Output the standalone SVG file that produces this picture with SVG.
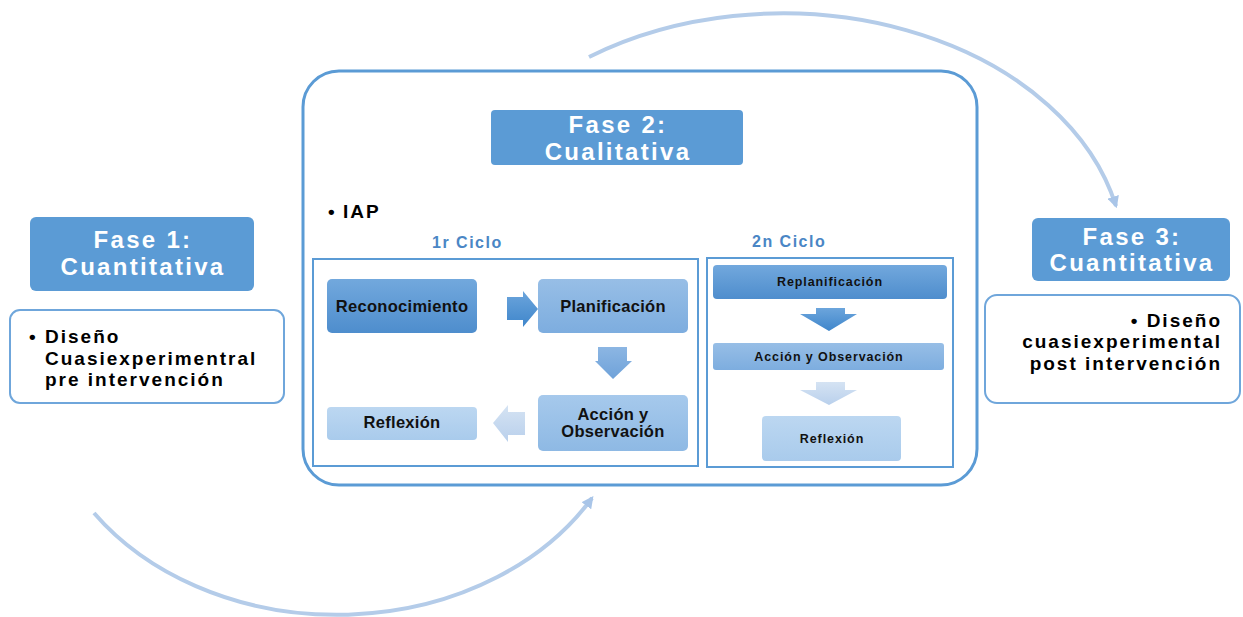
<svg xmlns="http://www.w3.org/2000/svg" width="1243" height="617" viewBox="0 0 1243 617">
<defs>
<style>
.fase{fill:#5B9BD5;}
.ft{font-family:"Liberation Sans",Arial,sans-serif;font-weight:bold;font-size:24px;fill:#fff;letter-spacing:2.3px;text-anchor:middle;}
.sub{fill:#fff;stroke:#6FA6DB;stroke-width:2;}
.st{font-family:"Liberation Sans",Arial,sans-serif;font-weight:bold;font-size:19px;fill:#000;letter-spacing:2px;}
.cyc{font-family:"Liberation Sans",Arial,sans-serif;font-weight:bold;font-size:16px;fill:#4A86C5;letter-spacing:1.5px;}
.cbox{fill:none;stroke:#5B9BD5;stroke-width:2;}
.nt{font-family:"Liberation Sans",Arial,sans-serif;font-weight:bold;font-size:16.5px;fill:#111;letter-spacing:0.3px;text-anchor:middle;}
.nt2{font-family:"Liberation Sans",Arial,sans-serif;font-weight:bold;font-size:12.5px;fill:#111;letter-spacing:0.9px;text-anchor:middle;}
.arc{fill:none;stroke:#B4CCE9;stroke-width:4;}
</style>
<linearGradient id="g1" x1="0" y1="0" x2="0" y2="1"><stop offset="0" stop-color="#72A8DD"/><stop offset="1" stop-color="#4E8DCD"/></linearGradient>
<linearGradient id="g2" x1="0" y1="0" x2="0" y2="1"><stop offset="0" stop-color="#97BEE6"/><stop offset="1" stop-color="#7DADDF"/></linearGradient>
<linearGradient id="g3" x1="0" y1="0" x2="0" y2="1"><stop offset="0" stop-color="#A6C9EC"/><stop offset="1" stop-color="#8EB9E4"/></linearGradient>
<linearGradient id="g4" x1="0" y1="0" x2="0" y2="1"><stop offset="0" stop-color="#BCD7F1"/><stop offset="1" stop-color="#A9CBEC"/></linearGradient>
<linearGradient id="ga1" x1="0" y1="0" x2="0" y2="1"><stop offset="0" stop-color="#6CA5DC"/><stop offset="1" stop-color="#3F86CB"/></linearGradient>
<linearGradient id="ga2" x1="0" y1="0" x2="0" y2="1"><stop offset="0" stop-color="#8CB6E3"/><stop offset="1" stop-color="#6FA2D9"/></linearGradient>
<linearGradient id="ga3" x1="0" y1="0" x2="0" y2="1"><stop offset="0" stop-color="#D5E3F3"/><stop offset="1" stop-color="#B9D0EC"/></linearGradient>
<marker id="ah" viewBox="0 0 10 10" refX="8" refY="5" markerWidth="3" markerHeight="3" orient="auto" markerUnits="strokeWidth">
<path d="M0,0 L10,5 L0,10 z" fill="#A9C5E8"/>
</marker>
</defs>

<g id="connectors">
<path class="arc" d="M589,57 A342,248 0 0,1 1116,206" marker-end="url(#ah)"/>
<path class="arc" d="M94,513 A295,235 0 0,0 592,498" marker-end="url(#ah)"/>
<path d="M507,297 L523,297 L523,291 L538,309 L523,327 L523,320 L507,320 z" fill="url(#ga1)"/>
<path d="M598,347 L627,347 L627,361 L632,361 L613,379 L595,361 L598,361 z" fill="url(#ga2)"/>
<path d="M525,412 L508,412 L508,405 L493,423 L508,442 L508,435 L525,435 z" fill="url(#ga3)"/>
<path d="M816,308 L845,308 L845,314 L857,314 L829,331 L800,314 L816,314 z" fill="url(#ga1)"/>
<path d="M816,382 L845,382 L845,390 L857,390 L829,405 L800,390 L816,390 z" fill="url(#ga3)"/>
</g>

<g id="container">
<rect x="303" y="71" width="674" height="414" rx="36" fill="none" stroke="#5B9BD5" stroke-width="3"/>
</g>

<g id="fase1">
<rect class="fase" x="30" y="217" width="224" height="74" rx="6"/>
<text class="ft" x="143" y="248">Fase 1:</text>
<text class="ft" x="143" y="275">Cuantitativa</text>
</g>
<g id="fase1-desc">
<rect class="sub" x="10" y="310" width="274" height="93" rx="10"/>
<text class="st" x="29" y="343">•</text>
<text class="st" x="45" y="343">Diseño</text>
<text class="st" x="45" y="365">Cuasiexperimentral</text>
<text class="st" x="45" y="386">pre intervención</text>
</g>

<g id="fase2">
<rect class="fase" x="491" y="110" width="252" height="55" rx="4"/>
<text class="ft" x="618" y="133">Fase 2:</text>
<text class="ft" x="618" y="160">Cualitativa</text>
</g>

<g id="iap">
<text class="st" x="328" y="218">•</text>
<text class="st" x="343" y="218">IAP</text>
</g>

<g id="ciclo1">
<text class="cyc" x="432" y="248">1r Ciclo</text>
<rect class="cbox" x="313" y="259" width="385" height="207"/>
</g>
<g id="reconocimiento">
<rect x="327" y="279" width="150" height="54" rx="5" fill="url(#g1)"/>
<text class="nt" x="402" y="312">Reconocimiento</text>
</g>
<g id="planificacion">
<rect x="538" y="279" width="150" height="54" rx="5" fill="url(#g2)"/>
<text class="nt" x="613" y="312">Planificación</text>
</g>
<g id="accion1">
<rect x="538" y="395" width="150" height="56" rx="5" fill="url(#g3)"/>
<text class="nt" x="613" y="420">Acción y</text>
<text class="nt" x="613" y="437">Observación</text>
</g>
<g id="reflexion1">
<rect x="327" y="407" width="150" height="33" rx="4" fill="url(#g4)"/>
<text class="nt" x="402" y="428">Reflexión</text>
</g>

<g id="ciclo2">
<text class="cyc" x="752" y="247">2n Ciclo</text>
<rect class="cbox" x="707" y="258" width="246" height="209"/>
</g>
<g id="replanificacion">
<rect x="713" y="265" width="234" height="34" rx="4" fill="url(#g1)"/>
<text class="nt2" x="830" y="286">Replanificación</text>
</g>
<g id="accion2">
<rect x="713" y="343" width="231" height="27" rx="3" fill="url(#g2)"/>
<text class="nt2" x="829" y="361">Acción y Observación</text>
</g>
<g id="reflexion2">
<rect x="762" y="416" width="139" height="45" rx="4" fill="url(#g4)"/>
<text class="nt2" x="832" y="443">Reflexión</text>
</g>

<g id="fase3">
<rect class="fase" x="1032" y="218" width="198" height="63" rx="6"/>
<text class="ft" x="1132" y="245">Fase 3:</text>
<text class="ft" x="1132" y="271">Cuantitativa</text>
</g>
<g id="fase3-desc">
<rect class="sub" x="985" y="295" width="255" height="108" rx="12"/>
<text class="st" x="1222" y="327" text-anchor="end">• Diseño</text>
<text class="st" x="1222" y="348" text-anchor="end">cuasiexperimental</text>
<text class="st" x="1222" y="370" text-anchor="end">post intervención</text>
</g>
</svg>
